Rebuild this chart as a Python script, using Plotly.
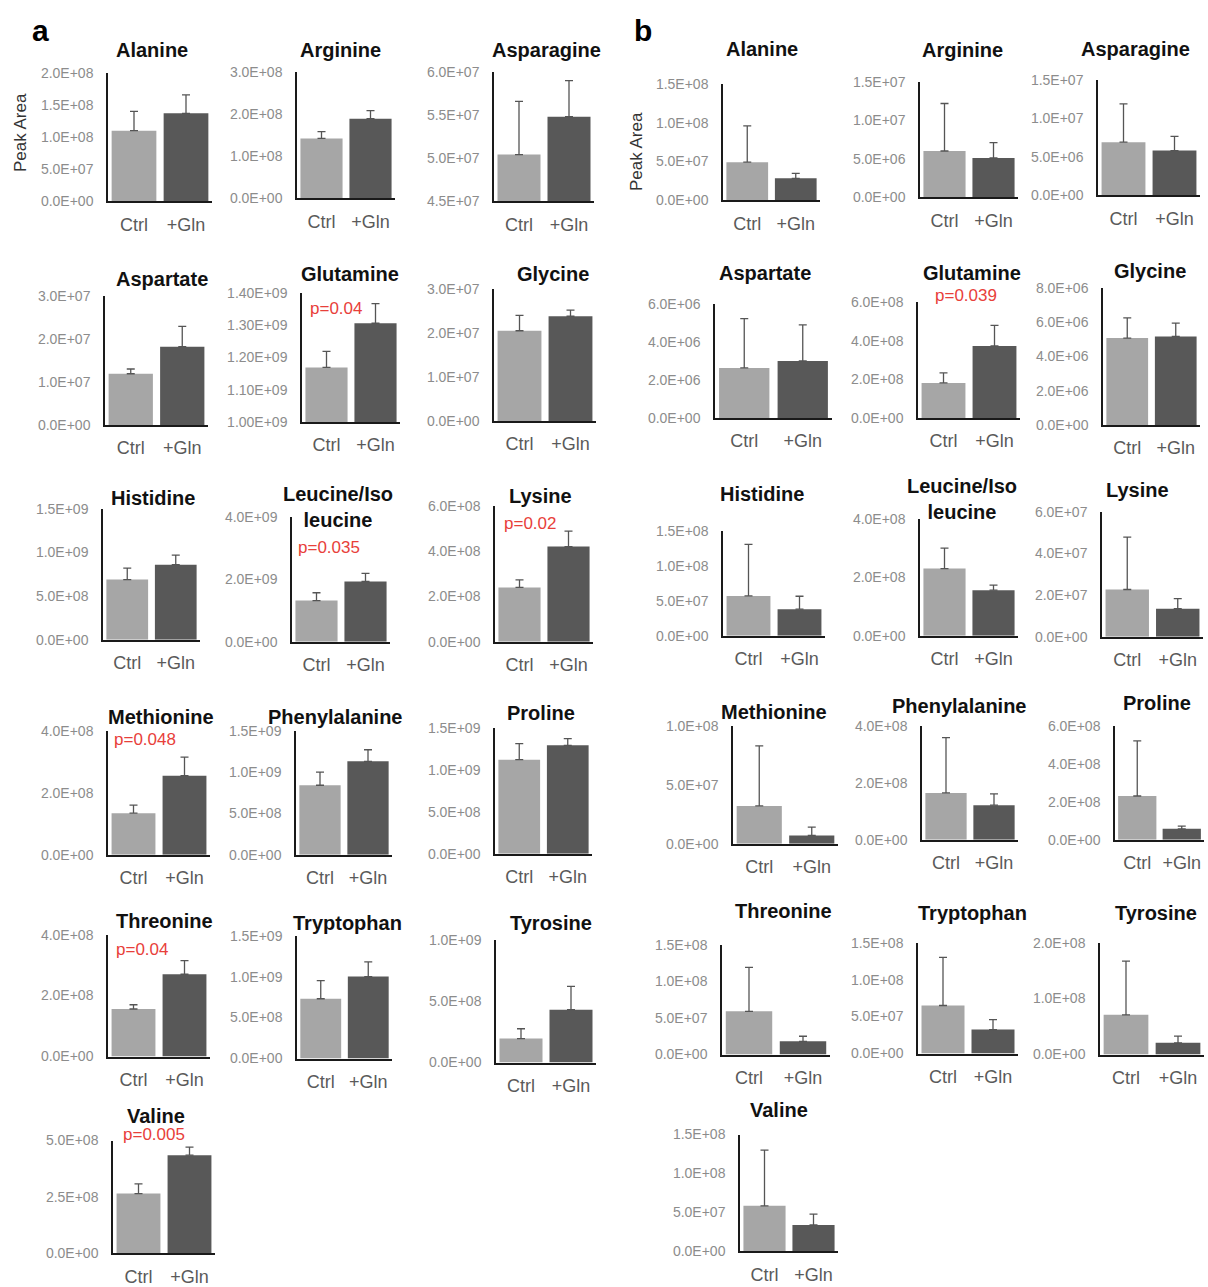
import plotly.graph_objects as go

W, H = 1208, 1287

amino = ["Alanine", "Arginine", "Asparagine", "Aspartate", "Glutamine", "Glycine",
         "Histidine", "Leucine/Iso<br>leucine", "Lysine", "Methionine", "Phenylalanine",
         "Proline", "Threonine", "Tryptophan", "Tyrosine", "Valine"]
groups = ["Ctrl", "+Gln"]

# ---- panel a ----
a_ctrl = [1.10e8, 1.42e8, 5.04e7, 1.19e7, 1.169e9, 2.05e7, 6.9e8, 1.32e9, 2.4e8, 1.34e8,
          8.4e8, 1.12e9, 1.56e8, 7.3e8, 1.95e8, 2.65e8]
a_ctrl_err = [0.30e8, 0.16e8, 0.62e7, 0.11e7, 0.05e9, 0.35e7, 0.13e9, 0.25e9, 0.33e8, 0.26e8,
              0.16e9, 0.19e9, 0.14e8, 0.22e9, 0.08e9, 0.43e8]
a_gln = [1.37e8, 1.89e8, 5.48e7, 1.82e7, 1.306e9, 2.38e7, 8.6e8, 1.93e9, 4.2e8, 2.55e8,
         1.13e9, 1.29e9, 2.7e8, 1.0e9, 4.3e8, 4.35e8]
a_gln_err = [0.29e8, 0.19e8, 0.42e7, 0.47e7, 0.061e9, 0.14e7, 0.11e9, 0.26e9, 0.68e8, 0.6e8,
             0.14e9, 0.08e9, 0.45e8, 0.18e9, 0.19e9, 0.36e8]
a_ymin = [0, 0, 4.5e7, 0, 1.0e9, 0, 0, 0, 0, 0, 0, 0, 0, 0, 0, 0]
a_ymax = [2e8, 3e8, 6e7, 3e7, 1.4e9, 3e7, 1.5e9, 4e9, 6e8, 4e8, 1.5e9, 1.5e9, 4e8, 1.5e9, 1e9, 5e8]
a_step = [5e7, 1e8, 5e6, 1e7, 1e8, 1e7, 5e8, 2e9, 2e8, 2e8, 5e8, 5e8, 2e8, 5e8, 5e8, 2.5e8]
a_dec = [1, 1, 1, 1, 2, 1, 1, 1, 1, 1, 1, 1, 1, 1, 1, 1]
a_p = ["", "", "", "", "p=0.04", "", "", "p=0.035", "p=0.02", "p=0.048", "", "", "p=0.04", "", "", "p=0.005"]

# ---- panel b ----
b_ctrl = [4.9e7, 6.0e6, 6.9e6, 2.63e6, 1.81e8, 5.07e6, 5.7e7, 2.3e8, 2.27e7, 3.2e7,
          1.64e8, 2.3e8, 5.9e7, 6.5e7, 7.1e7, 5.85e7]
b_ctrl_err = [4.7e7, 6.2e6, 5.0e6, 2.6e6, 0.52e8, 1.18e6, 7.35e7, 0.7e8, 2.52e7, 5.1e7,
              1.94e8, 2.9e8, 6.0e7, 6.5e7, 9.6e7, 7.15e7]
b_gln = [2.8e7, 5.1e6, 5.8e6, 3.0e6, 3.72e8, 5.17e6, 3.8e7, 1.56e8, 1.35e7, 7e6,
         1.21e8, 5.7e7, 1.8e7, 3.25e7, 2.1e7, 3.4e7]
b_gln_err = [0.65e7, 2.0e6, 1.85e6, 1.9e6, 1.07e8, 0.77e6, 1.85e7, 0.17e8, 0.48e7, 7e6,
             0.4e8, 1.4e7, 0.7e7, 1.35e7, 1.2e7, 1.4e7]
b_ymin = [0] * 16
b_ymax = [1.5e8, 1.5e7, 1.5e7, 6e6, 6e8, 8e6, 1.5e8, 4e8, 6e7, 1e8, 4e8, 6e8, 1.5e8, 1.5e8, 2e8, 1.5e8]
b_step = [5e7, 5e6, 5e6, 2e6, 2e8, 2e6, 5e7, 2e8, 2e7, 5e7, 2e8, 2e8, 5e7, 5e7, 1e8, 5e7]
b_dec = [1] * 16
b_p = ["", "", "", "", "p=0.039", "", "", "", "", "", "", "", "", "", "", ""]

# ---- layout boxes in pixels: (x0, x1, ytop, ybot, title_x, title_y, p_x, p_y) ----
a_boxes = [
    (108, 212, 73, 201, 152, 50, 0, 0),
    (297, 395, 72, 198, 340, 50, 0, 0),
    (494, 594, 72, 201, 546, 50, 0, 0),
    (105, 208, 296, 425, 162, 279, 0, 0),
    (302, 400, 293, 422, 350, 274, 336, 309),
    (494, 596, 289, 421, 553, 274, 0, 0),
    (103, 200, 509, 640, 153, 498, 0, 0),
    (292, 390, 517, 642, 338, 507, 329, 548),
    (495, 593, 506, 642, 540, 496, 530, 524),
    (108, 210, 731, 855, 161, 717, 145, 740),
    (296, 392, 731, 855, 335, 717, 0, 0),
    (495, 592, 728, 854, 541, 713, 0, 0),
    (108, 210, 935, 1057, 164, 921, 142, 950),
    (297, 392, 936, 1059, 348, 923, 0, 0),
    (496, 596, 940, 1063, 551, 923, 0, 0),
    (113, 215, 1141, 1254, 156, 1116, 154, 1135),
]
b_boxes = [
    (723, 820, 84, 200, 762, 49, 0, 0),
    (920, 1018, 82, 197, 962, 50, 0, 0),
    (1098, 1200, 80, 195, 1135, 49, 0, 0),
    (715, 832, 304, 418, 765, 273, 0, 0),
    (918, 1020, 302, 418, 972, 273, 966, 296),
    (1103, 1200, 288, 425, 1150, 271, 0, 0),
    (723, 825, 531, 636, 762, 494, 0, 0),
    (920, 1018, 519, 636, 962, 499, 0, 0),
    (1102, 1203, 512, 637, 1137, 490, 0, 0),
    (733, 838, 726, 844, 774, 712, 0, 0),
    (922, 1018, 726, 840, 960, 706, 0, 0),
    (1115, 1204, 726, 840, 1157, 703, 0, 0),
    (722, 830, 945, 1055, 783, 911, 0, 0),
    (918, 1018, 943, 1054, 972, 913, 0, 0),
    (1100, 1204, 943, 1055, 1156, 913, 0, 0),
    (740, 838, 1135, 1252, 779, 1110, 0, 0),
]


def fx(x):
    return x / W


def fy(y):
    # vertical calibration of measured pixel rows to paper fraction
    return 1 - ((y - 7.9) / 0.9873) / H


CTRL_COLOR = "#a6a6a6"
GLN_COLOR = "#585858"
FONT = "Liberation Sans, Arial, sans-serif"

fig = go.Figure()
layout = {}
annotations = []

panels = [
    (a_ctrl, a_ctrl_err, a_gln, a_gln_err, a_ymin, a_ymax, a_step, a_dec, a_p, a_boxes),
    (b_ctrl, b_ctrl_err, b_gln, b_gln_err, b_ymin, b_ymax, b_step, b_dec, b_p, b_boxes),
]

k = 0
for (ctrl, cerr, gln, gerr, ymin, ymax, step, dec, pvals, boxes) in panels:
    for i, name in enumerate(amino):
        k += 1
        xs = "x" if k == 1 else f"x{k}"
        ys = "y" if k == 1 else f"y{k}"
        xa = "xaxis" if k == 1 else f"xaxis{k}"
        ya = "yaxis" if k == 1 else f"yaxis{k}"
        x0, x1, yt, yb, tx, ty, px, py = boxes[i]
        fig.add_trace(go.Bar(
            x=groups, y=[ctrl[i], gln[i]],
            marker=dict(color=[CTRL_COLOR, GLN_COLOR], line=dict(width=0)),
            error_y=dict(type="data", symmetric=False, array=[cerr[i], gerr[i]],
                         arrayminus=[0, 0], color="#555555", thickness=1.3, width=4),
            xaxis=xs, yaxis=ys, showlegend=False, hoverinfo="skip",
        ))
        n = int(round((ymax[i] - ymin[i]) / step[i]))
        tv = [ymin[i] + j * step[i] for j in range(n + 1)]
        tt = [f"{v:.{dec[i]}E}" for v in tv]
        layout[xa] = dict(
            domain=[fx(x0), fx(x1)], anchor=ys, type="category",
            range=[-0.5, 1.5], showline=True, linecolor="#1a1a1a", linewidth=2,
            ticks="", showgrid=False, zeroline=False,
            tickfont=dict(family=FONT, size=18, color="#5a5a5a"),
            ticklabelstandoff=6,
        )
        layout[ya] = dict(
            domain=[fy(yb), fy(yt)], anchor=xs,
            range=[ymin[i], ymax[i]], showline=True, linecolor="#1a1a1a", linewidth=1.5,
            ticks="", showgrid=False, zeroline=False,
            tickmode="array", tickvals=tv, ticktext=tt,
            tickfont=dict(family=FONT, size=14, color="#8c8c8c"),
            ticklabelstandoff=10,
        )
        annotations.append(dict(
            text=f"<b>{name}</b>", x=fx(tx), y=fy(ty), xref="paper", yref="paper",
            xanchor="center", yanchor="middle", showarrow=False,
            font=dict(family=FONT, size=20, color="#111111"),
        ))
        if pvals[i]:
            annotations.append(dict(
                text=pvals[i], x=fx(px), y=fy(py), xref="paper", yref="paper",
                xanchor="center", yanchor="middle", showarrow=False,
                font=dict(family=FONT, size=17, color="#e8403a"),
            ))

# panel letters and y labels
for letter, lx in (("a", 40), ("b", 643)):
    annotations.append(dict(
        text=f"<b>{letter}</b>", x=fx(lx), y=fy(30), xref="paper", yref="paper",
        xanchor="center", yanchor="middle", showarrow=False,
        font=dict(family=FONT, size=30, color="#000000"),
    ))
for lx, ly in ((20, 133), (636, 152)):
    annotations.append(dict(
        text="Peak Area", x=fx(lx), y=fy(ly), xref="paper", yref="paper",
        xanchor="center", yanchor="middle", showarrow=False, textangle=-90,
        font=dict(family=FONT, size=17, color="#333333"),
    ))

fig.update_layout(
    width=W, height=H, margin=dict(l=0, r=0, t=0, b=0),
    paper_bgcolor="white", plot_bgcolor="white",
    bargap=0.14, annotations=annotations, **layout,
)

fig.write_html(
    "out.html",
    config={"displayModeBar": False},
    post_script="document.body.style.margin='0';document.body.style.overflow='hidden';",
)
